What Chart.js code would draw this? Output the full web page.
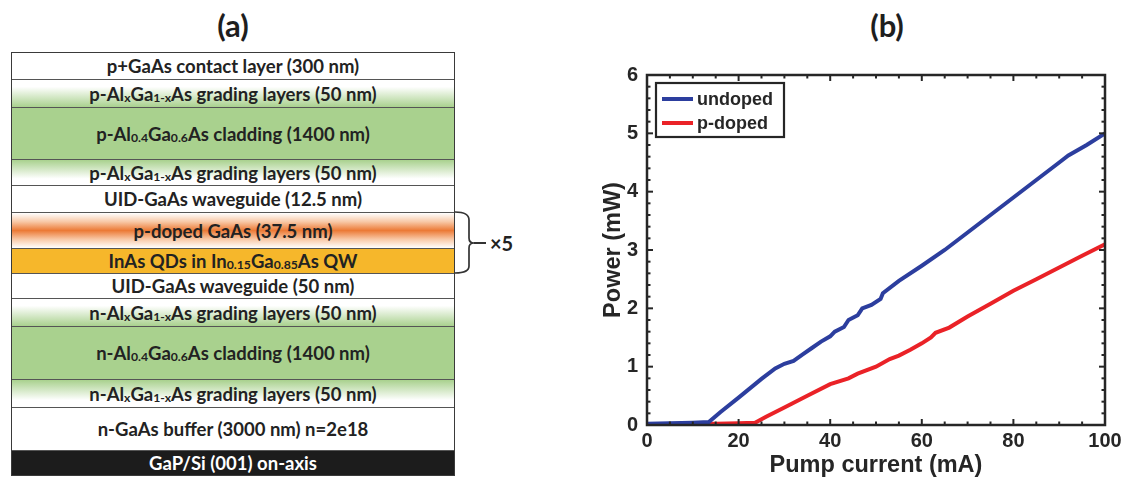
<!DOCTYPE html>
<html>
<head>
<meta charset="utf-8">
<script src="https://cdn.jsdelivr.net/npm/chart.js@4.4.1/dist/chart.umd.min.js"></script>
<style>
  html, body { margin: 0; padding: 0; background: #fff; }
  body { width: 1129px; height: 488px; position: relative; overflow: hidden; font-family: Lato, "Open Sans", sans-serif; color: #222; }
  .panel-title { position: absolute; font: bold 31px Lato, sans-serif; color: #1e1e1e; transform: translate(-50%, -50%); }
  #stack { position: absolute; left: 11px; top: 52px; width: 444px; border: 1.5px solid #3a3a3a; box-sizing: border-box; }
  .layer { box-sizing: border-box; border-bottom: 1.5px solid #555; display: flex; align-items: center; justify-content: center; font: bold 18.5px Lato, sans-serif; color: #222; white-space: nowrap; }
  .layer:last-child { border-bottom: none; }
  .layer sub { font-size: 0.66em; position: relative; top: 0.35em; line-height: 0; vertical-align: baseline; }
  #brace { position: absolute; left: 452px; top: 205px; }
  #times { position: absolute; left: 490px; top: 243px; transform: translateY(-50%); font: bold 20px Lato, sans-serif; color: #222; }
  #wrap { position: absolute; left: 560px; top: 0; width: 569px; height: 488px; }
</style>
</head>
<body>
<div class="panel-title" style="left:233px; top:25px;">(a)</div>
<div class="panel-title" style="left:887px; top:25px;">(b)</div>
<div id="stack"></div>
<svg id="brace" width="40" height="76">
  <path d="M3 7 Q17 7 17 15 L17 33 Q17 38 22 38 Q17 38 17 43 L17 61 Q17 68 3 68" fill="none" stroke="#333" stroke-width="1.7"/>
  <line x1="22" y1="38" x2="34" y2="38" stroke="#333" stroke-width="2"/>
</svg>
<div id="times">×5</div>
<div id="wrap"><canvas id="chart"></canvas></div>
<script>
// ---- (a) layer stack ----
const layerNames = [
  "p+GaAs contact layer (300 nm)",
  "p-Al<sub>x</sub>Ga<sub>1-x</sub>As grading layers (50 nm)",
  "p-Al<sub>0.4</sub>Ga<sub>0.6</sub>As cladding (1400 nm)",
  "p-Al<sub>x</sub>Ga<sub>1-x</sub>As grading layers (50 nm)",
  "UID-GaAs waveguide (12.5 nm)",
  "p-doped GaAs (37.5 nm)",
  "InAs QDs in In<sub>0.15</sub>Ga<sub>0.85</sub>As QW",
  "UID-GaAs waveguide (50 nm)",
  "n-Al<sub>x</sub>Ga<sub>1-x</sub>As grading layers (50 nm)",
  "n-Al<sub>0.4</sub>Ga<sub>0.6</sub>As cladding (1400 nm)",
  "n-Al<sub>x</sub>Ga<sub>1-x</sub>As grading layers (50 nm)",
  "n-GaAs buffer (3000 nm) n=2e18",
  "GaP/Si (001) on-axis"
];
const green = "#a9d18e";
const layerFills = [
  "#fff",
  `linear-gradient(#fff 25%, ${green})`,
  green,
  `linear-gradient(${green}, #fff 75%)`,
  "#fff",
  "linear-gradient(#fff 0%, #f8c8a6 25%, #ec7a36 50%, #f8c8a6 75%, #fff 100%)",
  "#f6b72b",
  "#fff",
  `linear-gradient(#fff 25%, ${green})`,
  green,
  `linear-gradient(${green}, #fff 75%)`,
  "#fff",
  "#1c1c1c"
];
const layerRows = [27, 28, 52, 26, 27, 36, 25, 25, 28, 53, 28, 43, 24];

const stack = document.getElementById("stack");
layerNames.forEach((name, i) => {
  const d = document.createElement("div");
  d.className = "layer";
  d.innerHTML = name;
  d.style.height = layerRows[i] + "px";
  d.style.background = layerFills[i];
  if (i === layerNames.length - 1) d.style.color = "#fff";
  stack.appendChild(d);
});

// ---- (b) L-I curves ----
const seriesNames = ["undoped", "p-doped"];
const seriesColors = ["#2c3e9e", "#ea2227"];

const undopedCurrent = [0, 5, 10, 13.5, 16, 20, 25, 28, 30, 32, 34, 36, 38, 40, 41, 43, 44, 46, 47, 49, 51, 51.5, 55, 60, 65, 70, 75, 80, 85, 90, 92, 96, 100];
const undopedPower   = [0.02, 0.03, 0.04, 0.05, 0.22, 0.47, 0.79, 0.97, 1.05, 1.1, 1.21, 1.32, 1.43, 1.52, 1.6, 1.68, 1.8, 1.88, 2.0, 2.06, 2.16, 2.26, 2.47, 2.73, 3.0, 3.3, 3.6, 3.9, 4.2, 4.5, 4.62, 4.8, 5.0];

const pdopedCurrent = [0, 5, 10, 15, 20, 23.6, 26, 30, 35, 40, 44, 46, 50, 53, 55, 57.5, 60, 62, 63, 66, 70, 75, 80, 85, 90, 95, 100];
const pdopedPower   = [0.0, 0.01, 0.02, 0.02, 0.03, 0.04, 0.14, 0.3, 0.5, 0.7, 0.8, 0.88, 1.0, 1.13, 1.19, 1.29, 1.4, 1.5, 1.58, 1.67, 1.86, 2.08, 2.3, 2.5, 2.7, 2.9, 3.1];

const xTickStep = 20, xMinorStep = 5;
const yTickStep = 1, yMinorStep = 0.2;

const axisColor = "#262626";
const tickFont = { family: "Liberation Sans", weight: "bold", size: 20 };
const titleFont = { family: "Liberation Sans", weight: "bold", size: 23.5 };

const toPoints = (xs, ys) => xs.map((x, i) => ({ x: x, y: ys[i] }));

// box with inward major + minor ticks on all four sides, plus the legend
const boxTicks = {
  id: "boxTicks",
  afterDatasetsDraw(chart) {
    const { ctx, chartArea: a, scales: { x, y } } = chart;
    ctx.save();
    ctx.strokeStyle = axisColor;
    ctx.lineWidth = 2;
    const seg = (x1, y1, x2, y2) => { ctx.beginPath(); ctx.moveTo(x1, y1); ctx.lineTo(x2, y2); ctx.stroke(); };
    for (let v = x.min; v <= x.max + 1e-9; v += xMinorStep) {
      const px = x.getPixelForValue(v);
      const len = Math.abs(v % xTickStep) < 1e-6 ? 6 : 3.5;
      seg(px, a.bottom, px, a.bottom - len);
      seg(px, a.top, px, a.top + len);
    }
    for (let i = 0; i <= Math.round((y.max - y.min) / yMinorStep); i++) {
      const v = y.min + i * yMinorStep;
      const py = y.getPixelForValue(v);
      const len = Math.abs(v - Math.round(v)) < 1e-6 ? 6 : 3.5;
      seg(a.left, py, a.left + len, py);
      seg(a.right, py, a.right - len, py);
    }
    ctx.lineWidth = 2.5;
    ctx.strokeRect(a.left, a.top, a.right - a.left, a.bottom - a.top);

    const lx = a.left + 9, ly = a.top + 8, lw = 128, lh = 54;
    ctx.fillStyle = "#fff";
    ctx.fillRect(lx, ly, lw, lh);
    ctx.lineWidth = 2.2;
    ctx.strokeRect(lx, ly, lw, lh);
    ctx.font = "bold 18px 'Liberation Sans'";
    ctx.textBaseline = "middle";
    chart.data.datasets.forEach((ds, i) => {
      const yy = ly + 16 + i * 24;
      ctx.strokeStyle = ds.borderColor;
      ctx.lineWidth = 4;
      seg(lx + 6, yy, lx + 37, yy);
      ctx.fillStyle = axisColor;
      ctx.fillText(ds.label, lx + 41, yy + 1);
    });
    ctx.restore();
  }
};

new Chart(document.getElementById("chart"), {
  type: "line",
  data: {
    datasets: [
      {
        label: seriesNames[0],
        data: toPoints(undopedCurrent, undopedPower),
        borderColor: seriesColors[0],
        borderWidth: 4,
        pointRadius: 0,
        tension: 0,
      },
      {
        label: seriesNames[1],
        data: toPoints(pdopedCurrent, pdopedPower),
        borderColor: seriesColors[1],
        borderWidth: 4,
        pointRadius: 0,
        tension: 0,
      },
    ],
  },
  options: {
    responsive: true,
    maintainAspectRatio: false,
    animation: false,
    layout: { padding: { top: 75, right: 24, left: 0, bottom: 0 } },
    plugins: { legend: { display: false }, tooltip: { enabled: false } },
    scales: {
      x: {
        type: "linear",
        min: 0,
        max: 100,
        grid: { display: false, drawTicks: false },
        border: { display: false },
        ticks: { stepSize: xTickStep, font: tickFont, color: axisColor, padding: 4, maxRotation: 0 },
        title: { display: true, text: "Pump current (mA)", font: titleFont, color: axisColor, padding: { top: 0, bottom: 8 } },
        afterFit: (s) => { s.height = 63; },
      },
      y: {
        min: 0,
        max: 6,
        grid: { display: false, drawTicks: false },
        border: { display: false },
        ticks: { stepSize: yTickStep, font: tickFont, color: axisColor, padding: 9 },
        title: { display: true, text: "Power (mW)", font: titleFont, color: axisColor, padding: { top: 39, bottom: 0 } },
        afterFit: (s) => { s.width = 87; },
      },
    },
  },
  plugins: [boxTicks],
});
</script>
</body>
</html>
